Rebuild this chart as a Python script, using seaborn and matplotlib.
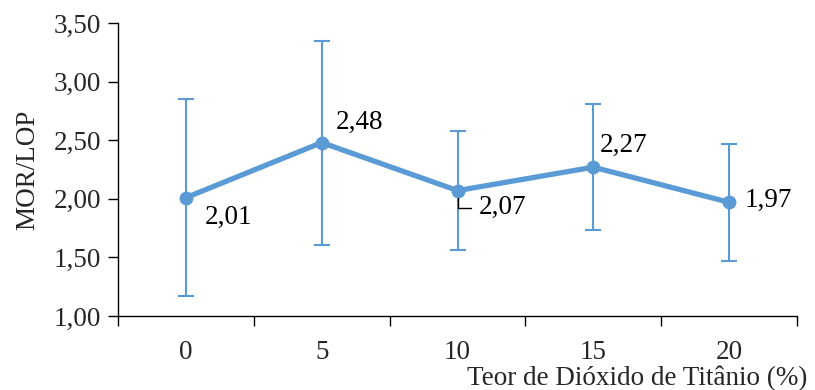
import matplotlib
matplotlib.use("Agg")
import matplotlib.pyplot as plt
import seaborn as sns
import pandas as pd
import numpy as np

# Teor de TiO2 (%) e razão MOR/LOP com desvio padrão
teor = ["0", "5", "10", "15", "20"]
mor_lop = [2.01, 2.48, 2.07, 2.27, 1.97]
desvio = [0.84, 0.87, 0.51, 0.54, 0.50]
rotulos = ["2,01", "2,48", "2,07", "2,27", "1,97"]
y_ticks = [1.00, 1.50, 2.00, 2.50, 3.00, 3.50]
y_tick_labels = ["1,00", "1,50", "2,00", "2,50", "3,00", "3,50"]

sns.set_theme(style="white")
plt.rcParams["font.family"] = ["Liberation Serif", "DejaVu Serif"]

cor = "#5B9BD5"
fs = 19.5

df = pd.DataFrame({"pos": np.arange(len(teor)), "valor": mor_lop})

fig = plt.figure(figsize=(8.15, 3.9), dpi=100)
ax = fig.add_axes([0.1448, 0.1897, 0.978 - 0.1448, 0.941 - 0.1897])

ax.errorbar(df["pos"], df["valor"], yerr=desvio, fmt="none", ecolor=cor,
            elinewidth=1.5, capsize=6, capthick=1.5, zorder=2)
sns.lineplot(data=df, x="pos", y="valor", ax=ax, color=cor, linewidth=3.8,
             marker="o", markersize=10, markeredgewidth=0, zorder=3)

# rótulos de dados
offsets = [(19, -20), (14, 20), (21, -17), (6, 22), (15, 2)]
for i, (v, lab, off) in enumerate(zip(mor_lop, rotulos, offsets)):
    if i == 2:
        ax.annotate(lab, xy=(i, v), xytext=off, textcoords="offset pixels",
                    ha="left", va="center", fontsize=fs, color="black",
                    arrowprops=dict(arrowstyle="-", color="black", lw=1,
                                    connectionstyle="angle,angleA=0,angleB=90",
                                    relpos=(0, 0.5), shrinkA=3, shrinkB=5))
    else:
        ax.annotate(lab, xy=(i, v), xytext=off, textcoords="offset pixels",
                    ha="left", va="center", fontsize=fs, color="black")

ax.set_xlim(-0.5, len(teor) - 0.5)
ax.set_ylim(1.0, 3.5)
ax.set_yticks(y_ticks)
ax.set_yticklabels(y_tick_labels, fontsize=fs)
ax.set_xticks(np.arange(len(teor)))
ax.set_xticklabels(teor, fontsize=fs)
ax.set_xticks(np.arange(len(teor) + 1) - 0.5, minor=True)
ax.tick_params(axis="x", which="major", bottom=True, length=0, pad=17)
ax.tick_params(axis="x", which="minor", bottom=True, length=7, width=1,
               color="black", direction="out")
ax.tick_params(axis="y", left=True, length=7, width=1, color="black",
               direction="out", pad=5)

for s in ["top", "right"]:
    ax.spines[s].set_visible(False)
for s in ["left", "bottom"]:
    ax.spines[s].set_color("black")
    ax.spines[s].set_linewidth(1)

ax.set_xlabel("")
ax.set_ylabel("MOR/LOP", fontsize=fs, labelpad=10)
fig.text(0.991, 0.012, "Teor de Dióxido de Titânio (%)", ha="right",
         va="baseline", fontsize=fs)

fig.savefig("out.png", dpi=100, facecolor="white")
